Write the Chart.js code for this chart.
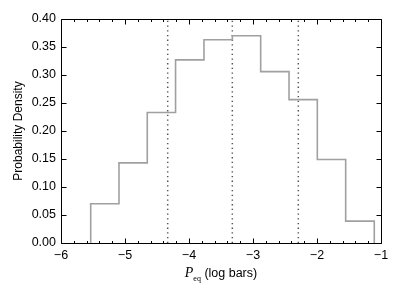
<!DOCTYPE html>
<html>
<head>
<meta charset="utf-8">
<script src="https://cdn.jsdelivr.net/npm/chart.js@4/dist/chart.umd.min.js"></script>
<style>
  html, body { margin: 0; padding: 0; background: #fff; }
  #wrap { position: relative; width: 400px; height: 300px; }
  #xlabel {
    position: absolute; left: 61px; width: 320px; top: 265px;
    text-align: center; font-family: "Liberation Sans", Arial, sans-serif;
    font-size: 12.5px; color: #000;
  }
  #xlabel i { font-family: "Liberation Serif", "DejaVu Serif", serif; font-size: 14px; }
  #xlabel sub { font-family: "Liberation Serif", serif; font-size: 8px; }
</style>
</head>
<body>
<div id="wrap">
  <canvas id="histChart" width="400" height="300"></canvas>
  <div id="xlabel"><i>P</i><sub>eq</sub> (log bars)</div>
</div>
<script>
// ============================================
// Data
// ============================================

const binEdges = [-5.536, -5.094, -4.652, -4.210, -3.766, -3.323, -2.880, -2.437, -1.995, -1.552, -1.105];

const densities = [0.070, 0.143, 0.233, 0.327, 0.363, 0.370, 0.306, 0.256, 0.149, 0.039];

const markers = [-4.333, -3.323, -2.292];

const xTicks = [-6, -5, -4, -3, -2, -1];

const yTicks = [0, 0.05, 0.10, 0.15, 0.20, 0.25, 0.30, 0.35, 0.40];


// ============================================
// Build step outline
// ============================================

const stepPoints = [];

stepPoints.push({x: binEdges[0], y: 0});

densities.forEach((d, i) => {
    stepPoints.push({x: binEdges[i], y: d});
    stepPoints.push({x: binEdges[i + 1], y: d});
});

stepPoints.push({x: binEdges[binEdges.length - 1], y: 0});


const markerSets = markers.map(m => ({
    data: [{x: m, y: 0}, {x: m, y: 0.40}],
    borderColor: "#555",
    borderWidth: 1.5,
    borderDash: [1.3, 3.4],
    pointRadius: 0,
    showLine: true
}));


// ============================================
// Inward ticks + frame
// ============================================

const frameTicks = {
    id: "frameTicks",
    afterDraw(chart) {
        const {ctx, chartArea: a, scales: {x, y}} = chart;
        const L = Math.round(a.left) + 0.5;
        const R = Math.round(a.right) + 0.5;
        const T = Math.round(a.top) + 0.5;
        const B = Math.round(a.bottom) + 0.5;

        ctx.save();
        ctx.strokeStyle = "#000";
        ctx.lineWidth = 1;

        ctx.beginPath();
        for (let k = 0; k <= 25; k++) {
            const v = -6 + k * 0.2;
            const px = Math.round(x.getPixelForValue(v)) + 0.5;
            const len = (k % 5 === 0) ? 5 : 2.5;
            ctx.moveTo(px, B); ctx.lineTo(px, B - len);
            ctx.moveTo(px, T); ctx.lineTo(px, T + len);
        }
        yTicks.forEach(v => {
            const py = Math.round(y.getPixelForValue(v)) + 0.5;
            ctx.moveTo(L, py); ctx.lineTo(L + 5, py);
            ctx.moveTo(R, py); ctx.lineTo(R - 5, py);
        });
        ctx.stroke();

        ctx.beginPath();
        ctx.moveTo(L, T); ctx.lineTo(R, T); ctx.lineTo(R, B); ctx.lineTo(L, B); ctx.closePath();
        ctx.stroke();
        ctx.restore();
    }
};


// ============================================
// Chart
// ============================================

const fmt = v => String(v).replace("-", "\u2212");

const tickFont = {family: "Liberation Sans, Arial, sans-serif", size: 12.5};

new Chart(document.getElementById("histChart"), {
    type: "scatter",
    data: {
        datasets: [
            {
                data: stepPoints,
                borderColor: "#a0a0a0",
                borderWidth: 1.6,
                pointRadius: 0,
                showLine: true
            },
            ...markerSets
        ]
    },
    options: {
        responsive: false,
        animation: false,
        layout: {padding: {top: 19, right: 19, left: 11, bottom: 0}},
        plugins: {legend: {display: false}, tooltip: {enabled: false}},
        scales: {
            x: {
                type: "linear",
                min: -6,
                max: -1,
                afterBuildTicks: s => { s.ticks = xTicks.map(v => ({value: v})); },
                afterFit: s => { s.height = 57; },
                grid: {display: false, drawTicks: false},
                border: {display: false},
                ticks: {
                    padding: 5,
                    color: "#000",
                    font: tickFont,
                    callback: v => fmt(v)
                }
            },
            y: {
                min: 0,
                max: 0.40,
                afterBuildTicks: s => { s.ticks = yTicks.map(v => ({value: v})); },
                afterFit: s => { s.width = 50; },
                grid: {display: false, drawTicks: false},
                border: {display: false},
                title: {
                    display: true,
                    text: "Probability Density",
                    color: "#000",
                    padding: {top: 0, bottom: 0},
                    font: {family: "Liberation Sans, Arial, sans-serif", size: 12}
                },
                ticks: {
                    padding: 5,
                    color: "#000",
                    font: tickFont,
                    callback: v => v.toFixed(2)
                }
            }
        }
    },
    plugins: [frameTicks]
});
</script>
</body>
</html>
